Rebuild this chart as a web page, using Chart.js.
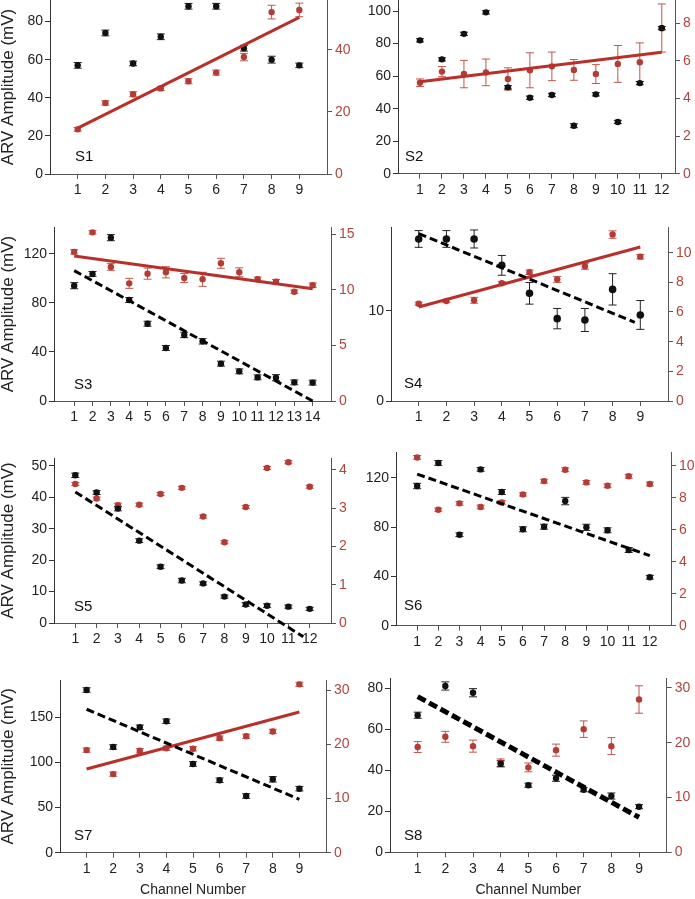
<!DOCTYPE html>
<html><head><meta charset="utf-8">
<script src="https://cdn.jsdelivr.net/npm/chart.js@4.4.0/dist/chart.umd.min.js"></script>
<style>
body{margin:0;background:#fff;width:695px;height:899px;overflow:hidden;position:relative;}
canvas{position:absolute;}
</style>
</head><body>
<script>
// ---------- DATA ----------
const S1_channels = [1,2,3,4,5,6,7,8,9];
const S1_black    = [57, 74, 58, 72, 88, 88, 66, 60, 57];
const S1_blackErr = [1.5,1.5,1.2,1.5,1.5,1.5,1.5,1.8,1.2];
const S1_red      = [14.4, 22.9, 25.7, 27.6, 29.9, 32.7, 37.7, 52.2, 52.9];
const S1_redErr   = [0.6,0.7,0.8,0.7,0.8,0.8,1.2,2.2,2.2];
const S1_redFitX  = [1, 9];
const S1_redFit   = [14.8, 50.5];

const S2_channels = [1,2,3,4,5,6,7,8,9,10,11,12];
const S2_black    = [82, 70.3, 86, 99.2, 53.1, 46.7, 48.4, 29.5, 48.8, 31.8, 55.7, 89.5];
const S2_blackErr = [1,1,1,1,1,1,1,1.2,1,1,1,1];
const S2_red      = [4.84, 5.43, 5.30, 5.39, 5.04, 5.5, 5.71, 5.52, 5.3, 5.84, 5.93, 7.75];
const S2_redErr   = [0.2, 0.27, 0.73, 0.71, 0.59, 0.93, 0.76, 0.55, 0.5, 0.98, 1.03, 1.28];
const S2_redFitX  = [1, 12];
const S2_redFit   = [4.89, 6.46];

const S3_channels = [1,2,3,4,5,6,7,8,9,10,11,12,13,14];
const S3_black    = [94.1, 103.7, 133.3, 82.4, 63.1, 43.3, 53.9, 48.7, 30.5, 24.2, 19.3, 19.0, 15.2, 15.0];
const S3_blackErr = [2.5,2,2.5,2,2,2,2.2,2.2,2,2,2,2.5,2,2];
const S3_red      = [13.4, 15.15, 12.04, 10.57, 11.44, 11.56, 11.05, 10.93, 12.37, 11.56, 10.93, 10.72, 9.82, 10.4];
const S3_redErr   = [0.2,0.15,0.3,0.45,0.5,0.5,0.4,0.63,0.45,0.4,0.2,0.2,0.15,0.2];
const S3_blackFitX = [1, 14];
const S3_blackFit  = [106.4, 0];
const S3_redFitX  = [1, 14];
const S3_redFit   = [13.03, 10.09];

const S4_channels = [1,2,3,4,5,6,7,8,9];
const S4_black    = [18.0, 18.0, 18.0, 15.07, 11.96, 9.15, 9.0, 12.4, 9.56];
const S4_blackErr = [0.93, 0.93, 1.0, 1.1, 1.2, 1.13, 1.28, 1.74, 1.6];
const S4_red      = [6.56, 6.74, 6.79, 7.94, 8.68, 8.2, 9.08, 11.22, 9.73];
const S4_redErr   = [0.1,0.1,0.2,0.1,0.15,0.2,0.2,0.25,0.15];
const S4_blackFitX = [1, 8.8];
const S4_blackFit  = [18.6, 8.74];
const S4_redFitX  = [1, 9];
const S4_redFit   = [6.34, 10.38];

const S5_channels = [1,2,3,4,5,6,7,8,9,10,11,12];
const S5_black    = [47.0, 41.5, 36.4, 26.2, 17.9, 13.5, 12.6, 8.4, 5.9, 5.5, 5.2, 4.5];
const S5_blackErr = [0.7,0.6,0.7,0.6,0.6,0.7,0.5,0.5,0.6,0.6,0.5,0.5];
const S5_red      = [3.63, 3.25, 3.08, 3.09, 3.37, 3.53, 2.78, 2.11, 3.03, 4.05, 4.2, 3.56];
const S5_redErr   = [0.04,0.04,0.05,0.04,0.04,0.04,0.04,0.04,0.04,0.04,0.04,0.04];
const S5_blackFitX = [1, 11.7];
const S5_blackFit  = [41.7, -4.4];

const S6_channels = [1,2,3,4,5,6,7,8,9,10,11,12];
const S6_black    = [113.3, 132, 73.8, 126.8, 108.4, 78.2, 80.3, 101.1, 79.8, 77.4, 61.4, 39.3];
const S6_blackErr = [2.2,2,1.5,1.5,2,2,2,3,2.5,2,2,1.5];
const S6_red      = [10.52, 7.25, 7.65, 7.42, 7.71, 8.21, 9.04, 9.75, 8.96, 8.75, 9.34, 8.86];
const S6_redErr   = [0.12,0.1,0.12,0.12,0.12,0.1,0.12,0.12,0.12,0.12,0.12,0.12];
const S6_blackFitX = [1, 12];
const S6_blackFit  = [123, 56.8];

const S7_channels = [1,2,3,4,5,6,7,8,9];
const S7_black    = [180.2, 117.1, 138.9, 145.6, 98.3, 80.2, 62.8, 81.3, 70.9];
const S7_blackErr = [2.5,2.5,2.5,2.5,2.5,2.5,2.5,3,2.5];
const S7_red      = [18.95, 14.52, 18.82, 19.3, 19.2, 21.16, 21.5, 22.4, 31.1];
const S7_redErr   = [0.4,0.4,0.4,0.4,0.4,0.4,0.4,0.4,0.4];
const S7_blackFitX = [1, 9];
const S7_blackFit  = [158.9, 59.1];
const S7_redFitX  = [1, 9];
const S7_redFit   = [15.45, 26.0];

const S8_channels = [1,2,3,4,5,6,7,8,9];
const S8_black    = [67, 81.3, 78, 43.3, 32.8, 36.2, 30.6, 27.5, 22.3];
const S8_blackErr = [1.5,2,2,1.5,1,1.5,1,1.5,1];
const S8_red      = [19.2, 21.07, 19.37, 16.33, 15.49, 18.64, 22.47, 19.37, 27.88];
const S8_redErr   = [1.0, 1.0, 1.1, 0.7, 0.8, 1.1, 1.5, 1.55, 2.5];
const S8_blackFitX = [1, 9];
const S8_blackFit  = [76.1, 17.1];

const yTitle = 'ARV Amplitude (mV)';
const xTitle = 'Channel Number';

// ---------- LAYOUT / STYLE ----------
const FONT = "'Liberation Sans', Arial, Helvetica, sans-serif";
const BLACK = '#111111';
const RED = '#b43c34';
const REDLINE = '#b8302a';
const REDERR = '#c0554c';
const REDTICK = '#b0453c';

const rows = [
  {cy:-15, ch:215},
  {cy:205, ch:228},
  {cy:435, ch:218},
  {cy:660, ch:239}
];
const cols = [{cx:0, cw:360}, {cx:340, cw:355}];

const panels = [
  {name:'S1', row:0, col:0, area:[50,327,0,174], x:[0,10], yL:[0,91.3,20], yR:[0,56.1,20],
   ch:S1_channels, black:S1_black, bErr:S1_blackErr, red:S1_red, rErr:S1_redErr,
   redFit:[S1_redFitX,S1_redFit], lab:[25,17]},
  {name:'S2', row:0, col:1, area:[398,675,0,173.7], x:[0,12.6], yL:[0,106.8,20], yR:[0,9.24,2],
   ch:S2_channels, black:S2_black, bErr:S2_blackErr, red:S2_red, rErr:S2_redErr,
   redFit:[S2_redFitX,S2_redFit], lab:[7,17]},
  {name:'S3', row:1, col:0, area:[54,331,227,401], x:[-0.1,15], yL:[0,142,40], yR:[0,15.63,5],
   ch:S3_channels, black:S3_black, bErr:S3_blackErr, red:S3_red, rErr:S3_redErr,
   blackFit:[S3_blackFitX,S3_blackFit], redFit:[S3_redFitX,S3_redFit], lab:[20,16]},
  {name:'S4', row:1, col:1, area:[391,668,227,401], x:[0,10], yL:[0,19.33,10], yR:[0,11.73,2],
   ch:S4_channels, black:S4_black, bErr:S4_blackErr, red:S4_red, rErr:S4_redErr,
   blackFit:[S4_blackFitX,S4_blackFit], redFit:[S4_redFitX,S4_redFit], lab:[13,17], bigDots:true},
  {name:'S5', row:2, col:0, area:[54,331,458,623], x:[0,13], yL:[0,52.5,10], yR:[0,4.31,1],
   ch:S5_channels, black:S5_black, bErr:S5_blackErr, red:S5_red, rErr:S5_redErr,
   blackFit:[S5_blackFitX,S5_blackFit], lab:[20,16]},
  {name:'S6', row:2, col:1, area:[396,671,452,625.7], x:[0,13], yL:[0,140.9,40], yR:[0,10.86,2],
   ch:S6_channels, black:S6_black, bErr:S6_blackErr, red:S6_red, rErr:S6_redErr,
   blackFit:[S6_blackFitX,S6_blackFit], lab:[8,20]},
  {name:'S7', row:3, col:0, area:[60,326,680,852.7], x:[0,10], yL:[0,191.3,50], yR:[0,31.9,10],
   ch:S7_channels, black:S7_black, bErr:S7_blackErr, red:S7_red, rErr:S7_redErr,
   blackFit:[S7_blackFitX,S7_blackFit], redFit:[S7_redFitX,S7_redFit], lab:[14,17], xTitle:true},
  {name:'S8', row:3, col:1, area:[390,666.7,678,852.3], x:[0,10], yL:[0,85.2,20], yR:[0,31.8,10],
   ch:S8_channels, black:S8_black, bErr:S8_blackErr, red:S8_red, rErr:S8_redErr,
   blackFit:[S8_blackFitX,S8_blackFit], lab:[14,16.5], xTitle:true, thickFit:true}
];

const errPlugin = {
  id: 'errbars',
  beforeDatasetsDraw(chart) {
    const ctx = chart.ctx;
    chart.data.datasets.forEach((ds) => {
      if (!ds.errors) return;
      const ys = chart.scales[ds.yAxisID];
      const xs = chart.scales.x;
      ctx.save();
      ctx.strokeStyle = ds.errColor;
      ctx.lineWidth = 1;
      ds.data.forEach((p, j) => {
        const e = ds.errors[j];
        const x = xs.getPixelForValue(p.x);
        const y1 = ys.getPixelForValue(p.y - e);
        const y2 = ys.getPixelForValue(p.y + e);
        ctx.beginPath();
        ctx.moveTo(x, y1); ctx.lineTo(x, y2);
        ctx.moveTo(x - 4, y1); ctx.lineTo(x + 4, y1);
        ctx.moveTo(x - 4, y2); ctx.lineTo(x + 4, y2);
        ctx.stroke();
      });
      ctx.restore();
    });
  },
  afterDraw(chart) {
    const p = chart.options.plugins.errbars;
    if (!p || !p.label) return;
    const ctx = chart.ctx, a = chart.chartArea;
    ctx.save();
    ctx.fillStyle = '#111';
    ctx.font = '15px ' + FONT;
    ctx.textBaseline = 'middle';
    ctx.textAlign = 'left';
    ctx.fillText(p.label, a.left + p.dx, a.bottom - p.dy);
    ctx.restore();
  }
};

panels.forEach((P) => {
  const R = rows[P.row], C = cols[P.col];
  const cv = document.createElement('canvas');
  cv.width = C.cw; cv.height = R.ch;
  cv.style.left = C.cx + 'px'; cv.style.top = R.cy + 'px';
  cv.style.width = C.cw + 'px'; cv.style.height = R.ch + 'px';
  document.body.appendChild(cv);

  const [L, Rr, T, B] = P.area;
  const lW = L - C.cx, rW = C.cw - (Rr - C.cx), tPad = T - R.cy, xH = R.ch - (B - R.cy);

  const datasets = [];
  if (P.blackFit) datasets.push({
    data: P.blackFit[0].map((x, i) => ({x, y: P.blackFit[1][i]})),
    yAxisID: 'yL', showLine: true, pointRadius: 0, borderColor: '#000',
    borderWidth: P.thickFit ? 5 : 3, borderDash: P.thickFit ? [9, 4] : [8, 4], clip: false, order: 0
  });
  if (P.redFit) datasets.push({
    data: P.redFit[0].map((x, i) => ({x, y: P.redFit[1][i]})),
    yAxisID: 'yR', showLine: true, pointRadius: 0, borderColor: REDLINE,
    borderWidth: 3, clip: false, order: 0
  });
  datasets.push({
    data: P.ch.map((x, i) => ({x, y: P.red[i]})), yAxisID: 'yR',
    pointRadius: 3.2, pointBackgroundColor: RED, pointBorderWidth: 0, showLine: false,
    errors: P.rErr, errColor: REDERR, order: 2
  });
  datasets.push({
    data: P.ch.map((x, i) => ({x, y: P.black[i]})), yAxisID: 'yL',
    pointRadius: P.bigDots ? 3.8 : 3.2, pointBackgroundColor: BLACK, pointBorderWidth: 0, showLine: false,
    errors: P.bErr, errColor: '#222', order: 1
  });

  const tickFont = {family: FONT, size: 14};
  new Chart(cv, {
    type: 'scatter',
    data: {datasets},
    options: {
      responsive: false, animation: false, devicePixelRatio: 1,
      layout: {padding: {top: tPad, left: 0, right: 0, bottom: 0}},
      plugins: {legend: {display: false}, tooltip: {enabled: false},
        errbars: {label: P.name, dx: P.lab[0], dy: P.lab[1]}},
      scales: {
        x: {
          type: 'linear', position: 'bottom', min: P.x[0], max: P.x[1],
          afterBuildTicks: (s) => { s.ticks = P.ch.map(v => ({value: v})); },
          ticks: {font: tickFont, color: '#222', padding: 3, autoSkip: false, maxRotation: 0,
                  callback: (v) => String(v)},
          grid: {drawOnChartArea: false, drawTicks: true, tickLength: 5, color: '#555'},
          border: {color: '#555', width: 1},
          title: {display: !!P.xTitle, text: xTitle, color: '#222',
                  font: {family: FONT, size: 14}, padding: {top: 0, bottom: 0}},
          afterFit: (s) => { s.height = xH; s.paddingLeft = 0; s.paddingRight = 0; }
        },
        yL: {
          type: 'linear', position: 'left', min: P.yL[0], max: P.yL[1],
          ticks: {stepSize: P.yL[2], includeBounds: false, font: tickFont, color: '#222', padding: 2},
          grid: {drawOnChartArea: false, drawTicks: true, tickLength: 5, color: '#333'},
          border: {color: '#333', width: 1},
          title: {display: P.col === 0, text: yTitle, color: '#222',
                  font: {family: FONT, size: 17, lineHeight: 1}, padding: {top: 0, bottom: 0}},
          afterFit: (s) => { s.width = lW; s.paddingTop = 0; s.paddingBottom = 0; }
        },
        yR: {
          type: 'linear', position: 'right', min: P.yR[0], max: P.yR[1],
          ticks: {stepSize: P.yR[2], includeBounds: false, font: tickFont, color: REDTICK, padding: 3},
          grid: {drawOnChartArea: false, drawTicks: true, tickLength: 5, color: '#555'},
          border: {color: '#555', width: 1},
          afterFit: (s) => { s.width = rW; s.paddingTop = 0; s.paddingBottom = 0; }
        }
      }
    },
    plugins: [errPlugin]
  });
});
</script>
</body></html>
